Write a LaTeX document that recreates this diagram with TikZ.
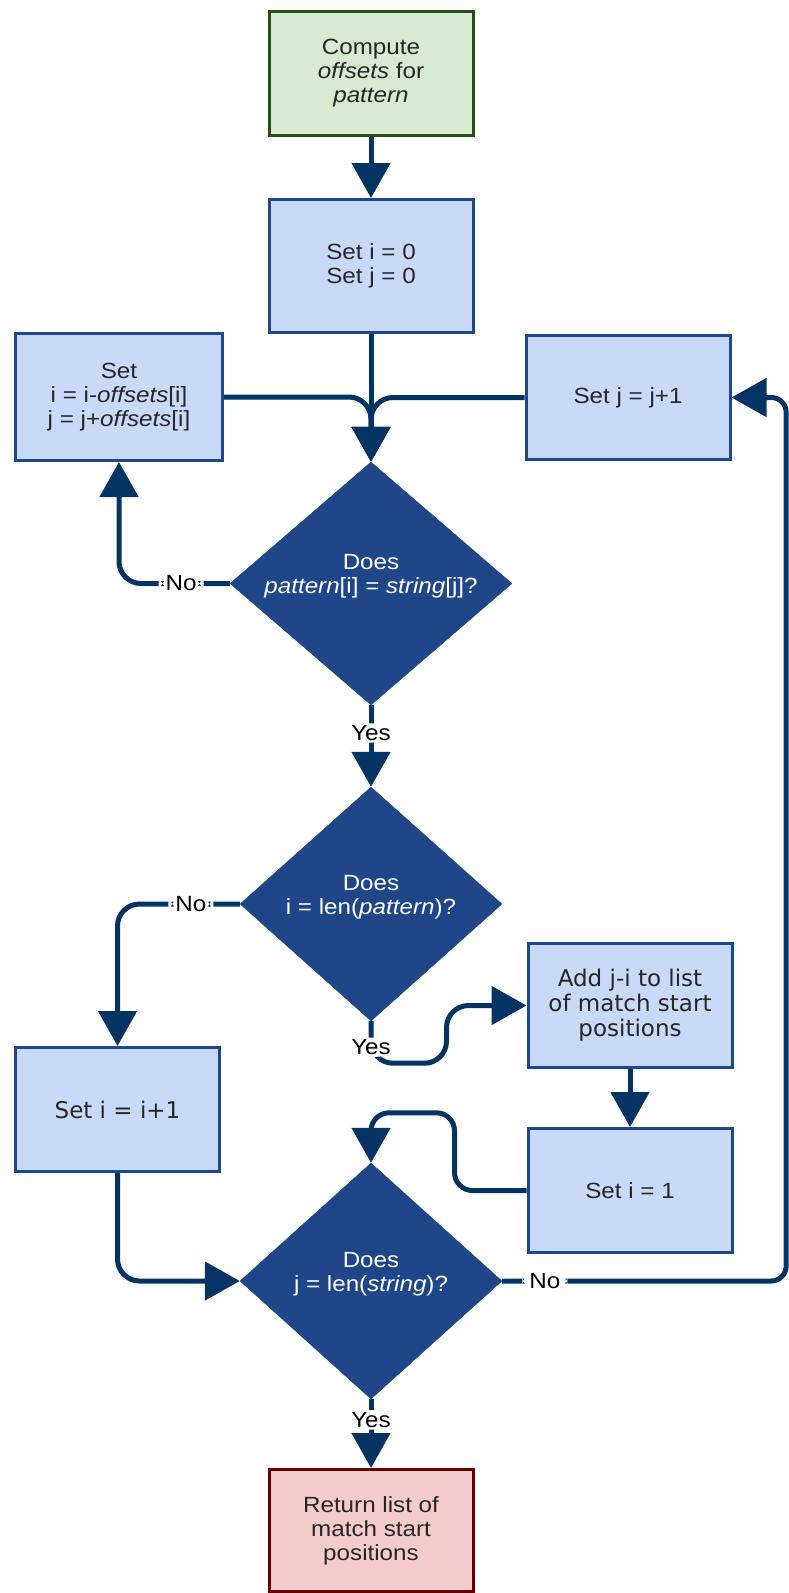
\documentclass[tikz,border=0pt]{standalone}
\usepackage{fontspec}
\setmainfont{Liberation Sans}[FakeStretch=1.1]
\newfontfamily\dejavu{DejaVu Sans}
\usetikzlibrary{shapes.geometric,arrows.meta}
\definecolor{boxfill}{RGB}{201,218,248}
\definecolor{boxline}{RGB}{30,72,140}
\definecolor{decfill}{RGB}{31,70,136}
\definecolor{flowline}{RGB}{5,52,100}
\definecolor{startfill}{RGB}{217,234,211}
\definecolor{startline}{RGB}{39,78,19}
\definecolor{endfill}{RGB}{244,204,204}
\definecolor{endline}{RGB}{102,0,0}
\begin{document}
\begin{tikzpicture}[x=1pt,y=-1pt,
  font=\fontsize{22}{24}\selectfont,
  proc/.style={rectangle,draw=boxline,fill=boxfill,line width=3pt,minimum width=204pt,minimum height=124pt,align=center,text=black!85},
  decide/.style={diamond,fill=decfill,draw=decfill,inner xsep=0pt,inner ysep=-7pt,text depth=19pt,aspect=1.15,align=center,text=white},
  flow/.style={draw=flowline,line width=5pt,rounded corners=22pt,-{Triangle[length=35pt,width=38pt]}},
  tag/.style={fill=white,inner xsep=7pt,inner ysep=2pt,text=black}]
\useasboundingbox (0,0) rectangle (789,1593);
\node[proc,draw=startline,fill=startfill] (comp) at (371,73.5) {Compute\\\textit{offsets} for\\\textit{pattern}};
\node[proc,minimum height=133pt] (init) at (371,266) {Set i = 0\\Set j = 0};
\node[proc,minimum width=207pt,minimum height=127pt] (shift) at (119,397) {Set\\i = i-\textit{offsets}[i]\\j = j+\textit{offsets}[i]};
\node[proc] (incj) at (628,397.5) {Set j = j+1};
\node[decide,minimum width=282pt,minimum height=243pt] (eqchar) at (371,583.5) {Does\\\textit{pattern}[i] = \textit{string}[j]?};
\node[decide,minimum width=262pt,minimum height=234pt] (fullmatch) at (371,904) {Does\\i = len(\textit{pattern})?};
\node[proc,font=\dejavu\fontsize{23}{25}\selectfont] (addpos) at (630,1005.5) {Add j-i to list\\of match start\\positions};
\node[proc,font=\dejavu\fontsize{23}{25}\selectfont] (inci) at (117.5,1109.5) {Set i = i+1};
\node[proc] (reseti) at (630,1190.5) {Set i = 1};
\node[decide,minimum width=262pt,minimum height=236pt] (strend) at (371,1281) {Does\\j = len(\textit{string})?};
\node[proc,draw=endline,fill=endfill,minimum height=122pt] (ret) at (371,1530.5) {Return list of\\match start\\positions};
% connectors
\draw[flow] (comp) -- (init);
\draw[flow] (init) -- (eqchar);
\draw[flow] (shift.east) -| (eqchar.north);
\draw[flow] (incj.west) -| (eqchar.north);
\draw[flow] (eqchar.west) -| node[tag,pos=0.22] {No} (shift.south);
\draw[flow] (eqchar) -- node[tag,pos=0.34] {Yes} (fullmatch);
\draw[flow] (fullmatch.west) -| node[tag,pos=0.2] {No} (inci.north);
\draw[flow] (fullmatch.south) -- node[tag,pos=0.62] {Yes} ++(0,42) -| ([xshift=-80pt]addpos.west) -- (addpos.west);
\draw[flow] (addpos) -- (reseti);
\draw[flow,rounded corners=18pt] (reseti.west) -- ++(-72,0) |- ([yshift=50pt]strend.north) -- (strend.north);
\draw[flow] (inci.south) |- (strend.west);
\draw[flow,rounded corners=15pt] (strend.east) -- node[tag,pos=0.15] {No} ++(284,0) |- (incj.east);
\draw[flow] (strend) -- node[tag,pos=0.3] {Yes} (ret);
\end{tikzpicture}
\end{document}
